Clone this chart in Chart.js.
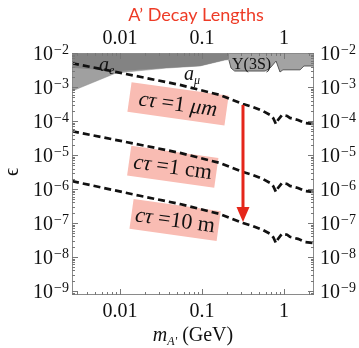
<!DOCTYPE html>
<html>
<head>
<meta charset="utf-8">
<script src="https://cdn.jsdelivr.net/npm/chart.js@4.4.1/dist/chart.umd.min.js"></script>
<style>
  html, body { margin: 0; padding: 0; background: #fff; }
  #wrap { width: 359px; height: 348px; }
</style>
</head>
<body>
<div id="wrap"><canvas id="decayChart" width="359" height="348"></canvas></div>
<script>
// mass points (GeV) shared by the three decay length curves
const massGeV = [0.0026, 0.0175, 0.054, 0.166, 0.232, 0.316, 0.419, 0.555, 0.675, 0.74, 0.798, 0.845, 0.946, 1.09, 1.18, 1.48, 1.80, 2.32];
const eps1um  = [5.0e-3, 2.0e-3, 1.15e-3, 5.8e-4, 4.2e-4, 3.16e-4, 2.57e-4, 1.95e-4, 1.51e-4, 1.2e-4, 8.1e-5, 1.07e-4, 1.51e-4, 1.41e-4, 1.23e-4, 1.07e-4, 8.7e-5, 8.1e-5];
const eps1cm  = [5.0e-5, 2.0e-5, 1.15e-5, 5.8e-6, 4.2e-6, 3.16e-6, 2.57e-6, 1.95e-6, 1.51e-6, 1.2e-6, 8.1e-7, 1.07e-6, 1.51e-6, 1.41e-6, 1.23e-6, 1.07e-6, 8.7e-7, 8.1e-7];
const eps10m  = [1.7e-6, 6.3e-7, 3.6e-7, 1.83e-7, 1.33e-7, 1.0e-7, 8.1e-8, 6.2e-8, 4.8e-8, 3.8e-8, 2.56e-8, 3.4e-8, 4.8e-8, 4.5e-8, 3.9e-8, 3.4e-8, 2.75e-8, 2.56e-8];

// excluded regions (lower edges), filled up to the top of the plot
const aeMass  = [0.0026, 0.00894, 0.0364, 0.0946, 0.19, 0.213];
const aeEps   = [7.6e-4, 2.58e-3, 3.6e-3, 4.15e-3, 6.2e-3, 6.4e-3];
const amuMass = [0.0026, 0.00894, 0.0364, 0.0946, 0.19, 0.213];
const amuEps  = [3.7e-3, 2.9e-3, 3.6e-3, 4.15e-3, 6.2e-3, 6.4e-3];
const upsMass = [0.213, 0.226, 0.25, 0.586, 0.675, 0.80, 0.893, 0.97, 1.57, 1.75, 2.32];
const upsEps  = [6.2e-3, 3.6e-3, 2.95e-3, 2.95e-3, 3.6e-3, 5.8e-3, 2.76e-3, 3.2e-3, 3.2e-3, 4.15e-3, 4.15e-3];

// tick labels
const xTicks = [0.01, 0.1, 1];
const xTickLabels = ['0.01', '0.1', '1'];
const yExps = [-2, -3, -4, -5, -6, -7, -8, -9];

// label boxes
const boxLabels = [
  { m: 0.051, e: 3.2e-4, w: 98, unit: 'μm', num: '1' },
  { m: 0.044, e: 4.5e-6, w: 88, unit: 'cm', num: '1' },
  { m: 0.047, e: 1.23e-7, w: 88, unit: 'm', num: '10' }
];
const arrowMass = 0.316;
const arrowFrom = 2.95e-4;
const arrowTo = 1.07e-7;

function pts(xs, ys) {
  return xs.map((x, i) => ({ x: x, y: ys[i] }));
}

const SERIF = '"Liberation Serif", "Times New Roman", serif';

function curve(data) {
  return {
    data: data,
    borderColor: '#111',
    borderWidth: 2.7,
    borderDash: [7, 4],
    pointRadius: 0,
    fill: false,
    tension: 0,
    order: 1
  };
}

function region(data, fillCol, lineCol, lw, ord) {
  return {
    data: data,
    borderColor: lineCol,
    borderWidth: lw,
    backgroundColor: fillCol,
    pointRadius: 0,
    fill: 'end',
    tension: 0,
    order: ord
  };
}

const decoPlugin = {
  id: 'deco',
  beforeDatasetsDraw(chart) {
    const ctx = chart.ctx;
    const xs = chart.scales.x, ys = chart.scales.y;
    // pink label boxes
    boxLabels.forEach(b => {
      const cx = xs.getPixelForValue(b.m);
      const cy = ys.getPixelForValue(b.e);
      ctx.save();
      ctx.translate(cx, cy);
      ctx.rotate(8 * Math.PI / 180);
      ctx.fillStyle = '#f9bcb3';
      ctx.fillRect(-b.w / 2, -15, b.w, 30);
      ctx.fillStyle = '#111';
      ctx.textBaseline = 'alphabetic';
      const parts = [
        ['italic 22px ' + SERIF, 'cτ '],
        ['22px ' + SERIF, '=' + b.num + ' '],
        [(b.unit === 'μm' ? 'italic ' : '') + '22px ' + SERIF, b.unit]
      ];
      let total = 0;
      parts.forEach(p => { ctx.font = p[0]; total += ctx.measureText(p[1]).width; });
      let x0 = -total / 2;
      parts.forEach(p => {
        ctx.font = p[0];
        ctx.fillText(p[1], x0, 7);
        x0 += ctx.measureText(p[1]).width;
      });
      ctx.restore();
    });
  },
  afterDatasetsDraw(chart) {
    const ctx = chart.ctx;
    const xs = chart.scales.x, ys = chart.scales.y;
    // red arrow
    const ax = xs.getPixelForValue(arrowMass);
    const ay1 = ys.getPixelForValue(arrowFrom);
    const ay2 = ys.getPixelForValue(arrowTo);
    ctx.save();
    ctx.strokeStyle = '#e5261a';
    ctx.fillStyle = '#e5261a';
    ctx.lineWidth = 3;
    ctx.beginPath();
    ctx.moveTo(ax, ay1);
    ctx.lineTo(ax, ay2 - 12);
    ctx.stroke();
    ctx.beginPath();
    ctx.moveTo(ax - 6.5, ay2 - 15);
    ctx.lineTo(ax + 6.5, ay2 - 15);
    ctx.lineTo(ax, ay2);
    ctx.closePath();
    ctx.fill();
    ctx.restore();

    // region labels
    ctx.save();
    ctx.fillStyle = '#111';
    ctx.font = 'italic 20px ' + SERIF;
    ctx.fillText('a', 99, 71);
    ctx.font = 'italic 12px ' + SERIF;
    ctx.fillText('e', 109, 74);
    ctx.font = 'italic 20px ' + SERIF;
    ctx.fillText('a', 184, 80);
    ctx.font = 'italic 12px ' + SERIF;
    ctx.fillText('μ', 194, 84);
    ctx.font = '16px ' + SERIF;
    ctx.fillText('Υ(3S)', 232, 69);
    ctx.restore();
  },
  afterDraw(chart) {
    const ctx = chart.ctx;
    const a = chart.chartArea;
    const xs = chart.scales.x, ys = chart.scales.y;
    ctx.save();
    // frame
    ctx.strokeStyle = '#8a8a8a';
    ctx.lineWidth = 1;
    ctx.strokeRect(a.left + 0.5, a.top + 0.5, a.right - a.left - 1, a.bottom - a.top - 1);

    // x ticks, top and bottom, inside
    ctx.strokeStyle = '#777';
    ctx.beginPath();
    for (let d = -3; d <= 0; d++) {
      for (let k = 1; k <= 9; k++) {
        const v = k * Math.pow(10, d);
        if (v < xs.min || v > xs.max) continue;
        const px = Math.round(xs.getPixelForValue(v)) + 0.5;
        const len = k === 1 ? 6 : 3;
        ctx.moveTo(px, a.bottom); ctx.lineTo(px, a.bottom - len);
        ctx.moveTo(px, a.top); ctx.lineTo(px, a.top + len);
      }
    }
    // y ticks, left and right, inside
    for (let d = -10; d <= -2; d++) {
      for (let k = 1; k <= 9; k++) {
        const v = k * Math.pow(10, d);
        if (v < ys.min || v > ys.max) continue;
        const py = Math.round(ys.getPixelForValue(v)) + 0.5;
        const len = k === 1 ? 6 : 3;
        ctx.moveTo(a.left, py); ctx.lineTo(a.left + len, py);
        ctx.moveTo(a.right, py); ctx.lineTo(a.right - len, py);
      }
    }
    ctx.stroke();

    // x tick labels
    ctx.fillStyle = '#111';
    ctx.font = '20px ' + SERIF;
    ctx.textAlign = 'center';
    xTicks.forEach((v, i) => {
      const px = xs.getPixelForValue(v);
      ctx.fillText(xTickLabels[i], px, 44);
      ctx.fillText(xTickLabels[i], px, 317);
    });

    // y tick labels 10^n on both sides
    ctx.textAlign = 'left';
    yExps.forEach(n => {
      const py = ys.getPixelForValue(Math.pow(10, n));
      ctx.font = '20px ' + SERIF;
      const w1 = ctx.measureText('10').width;
      ctx.font = '14px ' + SERIF;
      const sup = '\u2212' + Math.abs(n);
      const w2 = ctx.measureText(sup).width;
      let x0 = 68 - w1 - w2;
      ctx.font = '20px ' + SERIF;
      ctx.fillText('10', x0, py + 7);
      ctx.font = '14px ' + SERIF;
      ctx.fillText(sup, x0 + w1 + 1, py + 1);
      x0 = 320;
      ctx.font = '20px ' + SERIF;
      ctx.fillText('10', x0, py + 7);
      ctx.font = '14px ' + SERIF;
      ctx.fillText(sup, x0 + w1 + 1, py + 1);
    });

    // title
    ctx.fillStyle = '#ee3b26';
    ctx.font = '18px Lato, "Open Sans", sans-serif';
    ctx.textAlign = 'center';
    ctx.fillText('A\u2019 Decay Lengths', 196, 21);

    // x axis title
    ctx.fillStyle = '#111';
    ctx.textAlign = 'left';
    const p1 = ['italic 20px ' + SERIF, 'm'];
    const p2 = ['italic 12px ' + SERIF, 'A\''];
    const p3 = ['20px ' + SERIF, ' (GeV)'];
    let tw = 0;
    [p1, p2, p3].forEach(p => { ctx.font = p[0]; tw += ctx.measureText(p[1]).width; });
    let tx = 193 - tw / 2;
    ctx.font = p1[0]; ctx.fillText(p1[1], tx, 341); tx += ctx.measureText(p1[1]).width;
    ctx.font = p2[0]; ctx.fillText(p2[1], tx, 345); tx += ctx.measureText(p2[1]).width;
    ctx.font = p3[0]; ctx.fillText(p3[1], tx, 341);

    // y axis title
    ctx.translate(13, 172);
    ctx.rotate(-Math.PI / 2);
    ctx.textAlign = 'center';
    ctx.textBaseline = 'middle';
    ctx.font = '20px ' + SERIF;
    ctx.fillText('\u03f5', 0, 0);
    ctx.restore();
  }
};

new Chart(document.getElementById('decayChart').getContext('2d'), {
  type: 'line',
  data: {
    datasets: [
      curve(pts(massGeV, eps1um)),
      curve(pts(massGeV, eps1cm)),
      curve(pts(massGeV, eps10m)),
      region(pts(upsMass, upsEps), '#a3a3a3', '#555', 1, 2),
      region(pts(amuMass, amuEps), '#838383', 'rgba(0,0,0,0)', 0, 3),
      region(pts(aeMass, aeEps), '#a0a0a0', '#8a8a8a', 0.5, 4)
    ]
  },
  options: {
    responsive: false,
    animation: false,
    events: [],
    layout: { padding: { left: 72, right: 45, top: 53, bottom: 53 } },
    plugins: { legend: { display: false }, tooltip: { enabled: false } },
    scales: {
      x: { type: 'logarithmic', min: 0.0026, max: 2.32, display: false },
      y: { type: 'logarithmic', min: 7.6e-10, max: 0.01, display: false }
    }
  },
  plugins: [decoPlugin]
});
</script>
</body>
</html>
